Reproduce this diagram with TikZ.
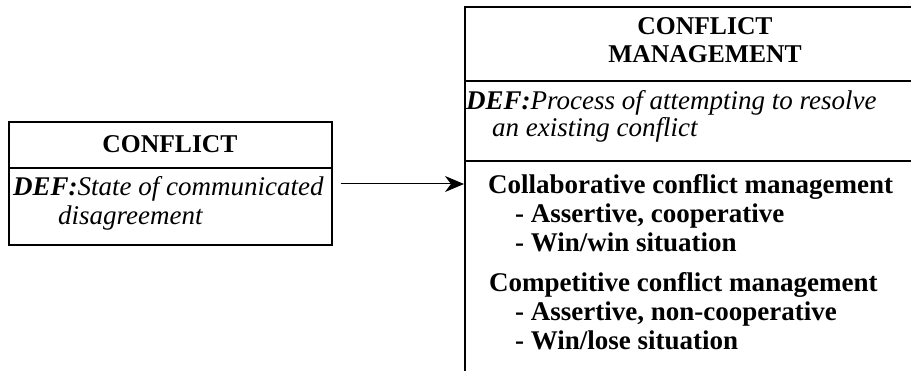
\documentclass[tikz,border=0pt]{standalone}
\usepackage{fontspec}
\setmainfont{Liberation Serif}
\usetikzlibrary{arrows.meta}
\begin{document}
\begin{tikzpicture}[x=1pt,y=-1pt,
  frame/.style={draw, line width=1.2pt, inner sep=0pt},
  rule/.style={line width=1.2pt},
  titlefont/.style={font=\fontsize{25.6}{28}\selectfont\bfseries, anchor=base, inner sep=0pt},
  deftext/.style={font=\fontsize{27}{30}\selectfont\itshape, anchor=base west, inner sep=0pt},
  item/.style={font=\fontsize{27}{30}\selectfont\bfseries, anchor=base west, inner sep=0pt},
  link/.style={line width=1pt, -{Stealth[length=19pt,width=16pt,inset=6pt]}}]
\useasboundingbox (0,0) rectangle (911,371);

% Concept box: CONFLICT
\node[frame, minimum width=323pt, minimum height=123pt] (conflict) at (170.5,183.5) {};
\draw[rule] (conflict.west |- 0,168) -- (conflict.east |- 0,168);
\node[titlefont] (conflicttitle) at (170,153) {CONFLICT};
\node[deftext] (conflictdef1) at (13,196) {\textbf{DEF:}State of communicated};
\node[deftext] (conflictdef2) at (58,225) {disagreement};

% Concept box: CONFLICT MANAGEMENT (open to the right and below)
\coordinate (mgmtcorner) at (465,7);
\draw[rule] (911,7) -- (mgmtcorner) -- (465,371);
\draw[rule] (465,81) -- (911,81);
\draw[rule] (465,161) -- (911,161);
\node[titlefont] (mgmttitle1) at (705,35) {CONFLICT};
\node[titlefont] (mgmttitle2) at (705,63) {MANAGEMENT};
\node[deftext] (mgmtdef1) at (466,110) {\textbf{DEF:}Process of attempting to resolve};
\node[deftext] (mgmtdef2) at (492,137) {an existing conflict};

\node[item] (collab) at (488,194) {Collaborative conflict management};
\node[item] (collab1) at (515,223) {- Assertive, cooperative};
\node[item] (collab2) at (515,252) {- Win/win situation};
\node[item] (compet) at (489,292) {Competitive conflict management};
\node[item] (compet1) at (515,321) {- Assertive, non-cooperative};
\node[item] (compet2) at (515,350) {- Win/lose situation};

% Connector
\coordinate (mgmtin) at (464,184);
\draw[link] ([xshift=8pt]conflict.east |- mgmtin) -- (mgmtin);
\end{tikzpicture}
\end{document}
